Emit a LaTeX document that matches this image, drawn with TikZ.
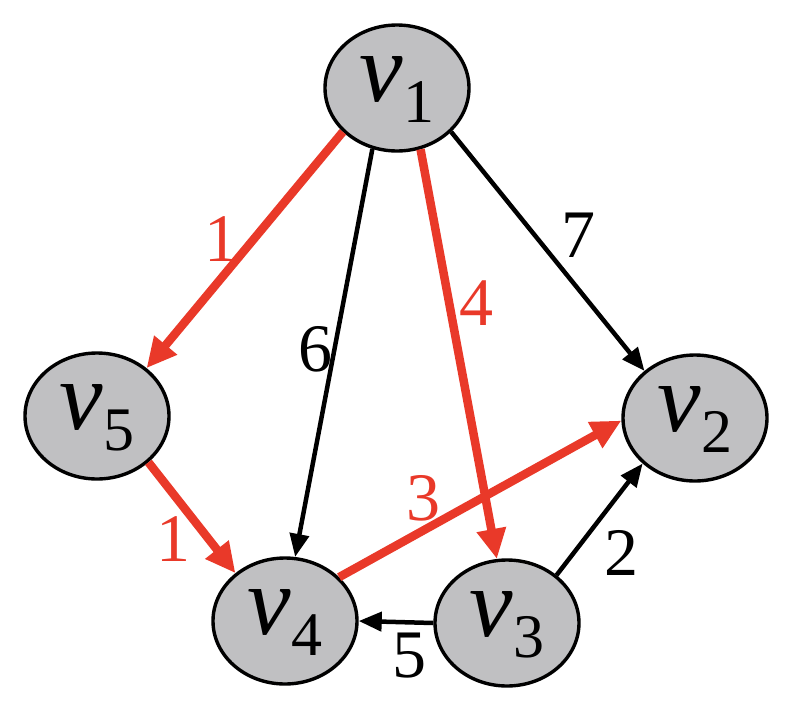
\documentclass[tikz,border=0pt]{standalone}
\usepackage{fontspec}
\setmainfont{Liberation Serif}
\usetikzlibrary{shapes.geometric,arrows.meta}
\definecolor{ered}{RGB}{233,57,41}
\definecolor{nfill}{RGB}{192,192,194}
\newcommand\vsub[1]{\textit{v}\kern1pt\raisebox{-21pt}{\fontsize{62}{62}\selectfont #1}}
\begin{document}
\begin{tikzpicture}[x=1pt,y=-1pt,
  vert/.style={ellipse,draw=black,line width=3.4pt,fill=nfill,minimum width=144pt,minimum height=126pt,inner sep=0pt,text height=47pt,text depth=21pt,font=\fontsize{98}{100}\selectfont},
  redge/.style={draw=ered,line width=8.5pt,-{Triangle[length=30pt,width=28pt]}},
  bedge/.style={draw=black,line width=4.5pt,-{Triangle[length=23pt,width=19pt]}},
  rlab/.style={text=ered,inner sep=0pt,font=\fontsize{68}{68}\selectfont},
  blab/.style={text=black,inner sep=0pt,font=\fontsize{68}{68}\selectfont}]
\useasboundingbox (0,0) rectangle (790,702);

\node[vert] (v1) at (397,88) {\vsub{1}};
\node[vert] (v5) at (97,416) {\vsub{5}};
\node[vert] (v2) at (695,418) {\vsub{2}};
\node[vert] (v4) at (285,621) {\vsub{4}};
\node[vert] (v3) at (507,623) {\vsub{3}};

\draw[bedge] (v1.248) -- (v4.81);
\draw[bedge] (v1.321) -- (v2.137);
\draw[bedge] (v3.44) -- (v2.221);
\draw[bedge] (v3.180) -- (v4.0);
\draw[redge] (v1.219) -- (v5.44);
\draw[redge] (v5.318) -- (v4.136);
\draw[redge] (v1.291) -- (v3.99);
\draw[redge] (v4.39) -- (v2.182);

\node[rlab] (l15) at (221,239) {1};
\node[blab] (l14) at (315,349) {6};
\node[rlab] (l13) at (476,303) {4};
\node[blab] (l12) at (578,235) {7};
\node[rlab] (l54) at (173,539) {1};
\node[rlab] (l42) at (423,498) {3};
\node[blab] (l32) at (621,553) {2};
\node[blab] (l34) at (409,656) {5};
\end{tikzpicture}
\end{document}
